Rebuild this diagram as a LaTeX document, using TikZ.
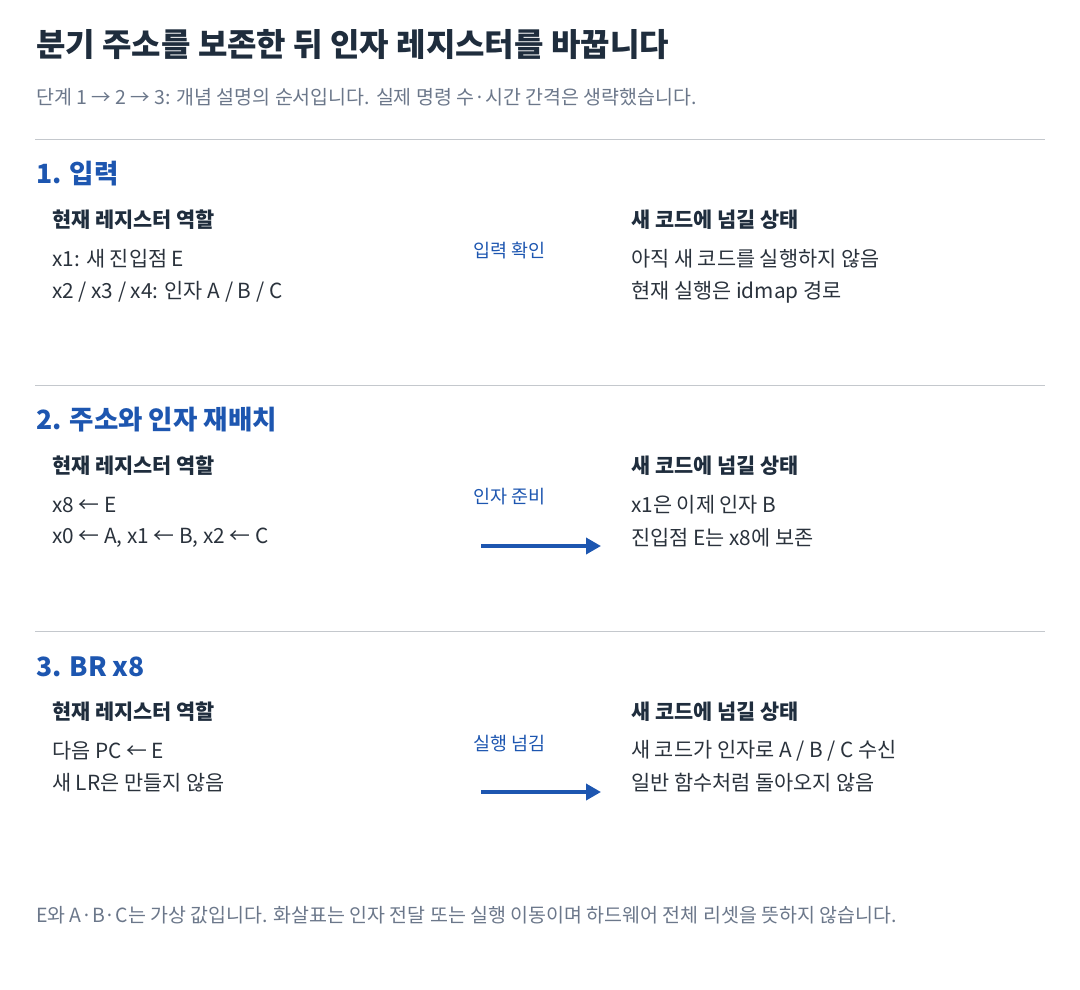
\documentclass[tikz,border=0pt]{standalone}
\usepackage{fontspec}
\setmainfont{Noto Sans CJK KR}
\usetikzlibrary{arrows.meta,positioning}
\definecolor{inkdark}{HTML}{1F2D3D}
\definecolor{inkbody}{HTML}{2A323C}
\definecolor{inkgray}{HTML}{6B778A}
\definecolor{inkblue}{HTML}{1D56B0}
\definecolor{rulegray}{HTML}{C4C8CD}
\tikzset{%
	maintitle/.style = {anchor=west, inner sep=0pt, text=inkdark, font=\fontsize{32}{36}\selectfont\bfseries},
	subnote/.style   = {anchor=west, inner sep=0pt, text=inkgray, font=\fontsize{19.5}{23}\selectfont},
	stagehead/.style = {anchor=west, inner sep=0pt, text=inkblue, font=\fontsize{26.5}{30}\selectfont\bfseries},
	colhead/.style   = {anchor=west, inner sep=0pt, text=inkdark, font=\fontsize{20.8}{24}\selectfont\bfseries},
	rowtext/.style   = {anchor=west, inner sep=0pt, text=inkbody, font=\fontsize{20.8}{24}\selectfont},
	midlabel/.style  = {anchor=west, inner sep=0pt, text=inkblue, font=\fontsize{18.5}{22}\selectfont},
	sepline/.style   = {draw=rulegray, line width=1pt},
	flow/.style      = {draw=inkblue, line width=3.6pt, -{Triangle[length=15pt,width=16pt]}},
}
\begin{document}
\begin{tikzpicture}[x=1pt,y=-1pt]
	\useasboundingbox (0,0) rectangle (1080,990);
	\node[maintitle] (title) at (36,45) {분기 주소를 보존한 뒤 인자 레지스터를 바꿉니다};
	\node[subnote] (subtitle) at (36,97) {단계 1 → 2 → 3: 개념 설명의 순서입니다. 실제 명령 수·시간 간격은 생략했습니다.};
	
	% stage 1
	\draw[sepline] (35,139) -- (1045,139);
	\node[stagehead] (stageA) at (36,174) {1. 입력};
	\node[colhead] (curheadA) at (52,220) {현재 레지스터 역할};
	\node[rowtext] (curA1) at (52,259) {x1: 새 진입점 E};
	\node[rowtext] (curA2) at (52,292) {x2 / x3 / x4: 인자 A / B / C};
	\node[midlabel] (midA) at (473,251) {입력 확인};
	\node[colhead] (newheadA) at (631,220) {새 코드에 넘길 상태};
	\node[rowtext] (newA1) at (631,259) {아직 새 코드를 실행하지 않음};
	\node[rowtext] (newA2) at (631,292) {현재 실행은 idmap 경로};
	
	% stage 2
	\draw[sepline] (35,385) -- (1045,385);
	\node[stagehead] (stageB) at (36,420) {2. 주소와 인자 재배치};
	\node[colhead] (curheadB) at (52,466) {현재 레지스터 역할};
	\node[rowtext] (curB1) at (52,505) {x8 ← E};
	\node[rowtext] (curB2) at (52,538) {x0 ← A, x1 ← B, x2 ← C};
	\node[midlabel] (midB) at (473,497) {인자 준비};
	\coordinate (flowBs) at (481,546);
	\coordinate (flowBe) at (601,546);
	\draw[flow] (flowBs) -- (flowBe);
	\node[colhead] (newheadB) at (631,466) {새 코드에 넘길 상태};
	\node[rowtext] (newB1) at (631,505) {x1은 이제 인자 B};
	\node[rowtext] (newB2) at (631,538) {진입점 E는 x8에 보존};
	
	% stage 3
	\draw[sepline] (35,631) -- (1045,631);
	\node[stagehead] (stageC) at (36,667) {3. BR x8};
	\node[colhead] (curheadC) at (52,712) {현재 레지스터 역할};
	\node[rowtext] (curC1) at (52,751) {다음 PC ← E};
	\node[rowtext] (curC2) at (52,783) {새 LR은 만들지 않음};
	\node[midlabel] (midC) at (473,744) {실행 넘김};
	\coordinate (flowCs) at (481,792);
	\coordinate (flowCe) at (601,792);
	\draw[flow] (flowCs) -- (flowCe);
	\node[colhead] (newheadC) at (631,712) {새 코드에 넘길 상태};
	\node[rowtext] (newC1) at (631,751) {새 코드가 인자로 A / B / C 수신};
	\node[rowtext] (newC2) at (631,783) {일반 함수처럼 돌아오지 않음};
	
	\node[subnote] (footnote) at (36,915) {E와 A·B·C는 가상 값입니다. 화살표는 인자 전달 또는 실행 이동이며 하드웨어 전체 리셋을 뜻하지 않습니다.};
\end{tikzpicture}
\end{document}
